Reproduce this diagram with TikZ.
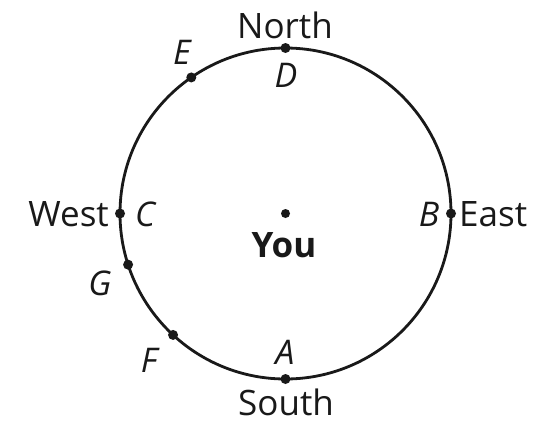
\documentclass[tikz,border=0pt]{standalone}
\usepackage{fontspec}
\setmainfont{Open Sans}
\usetikzlibrary{calc}
\begin{document}
\begin{tikzpicture}[x=1pt,y=-1pt,
  dotmark/.style={circle,fill=black!90,inner sep=0pt,minimum size=10pt},
  txt/.style={inner sep=0pt,font=\fontsize{35}{38}\selectfont,text=black!90},
  ltr/.style={txt,font=\fontsize{34}{38}\selectfont\itshape},
  ring/.style={line width=2.8pt,draw=black!90}]
\useasboundingbox (0,0) rectangle (534,423);
\coordinate (O) at (285.5,213.5);
\draw[ring] (O) circle[radius=165.5];
\node[dotmark,minimum size=9pt] (you) at (O) {};
\node[dotmark] (D) at ($(O)+(-90:165.5)$) {};
\node[dotmark] (A) at ($(O)+(90:165.5)$) {};
\node[dotmark] (C) at ($(O)+(180:165.5)$) {};
\node[dotmark] (B) at ($(O)+(0:165.5)$) {};
\node[dotmark] (E) at ($(O)+(-124.7:165.5)$) {};
\node[dotmark] (G) at ($(O)+(162:165.5)$) {};
\node[dotmark] (F) at ($(O)+(132.8:165.5)$) {};
\node[txt] (north) at (285,25) {North};
\node[txt] (south) at (286,402) {South};
\node[txt,anchor=east] (west) at (109,214) {West};
\node[txt,anchor=west] (east) at (459,214) {East};
\node[txt,font=\fontsize{35}{38}\selectfont\bfseries] (youlbl) at (284,245) {You};
\node[ltr] (Dl) at (286,75) {D};
\node[ltr] (El) at (182,52) {E};
\node[ltr] (Cl) at (145,214) {C};
\node[ltr] (Bl) at (429,214) {B};
\node[ltr] (Gl) at (100,283) {G};
\node[ltr] (Fl) at (149,360) {F};
\node[ltr] (Al) at (285,352) {A};
\end{tikzpicture}
\end{document}
